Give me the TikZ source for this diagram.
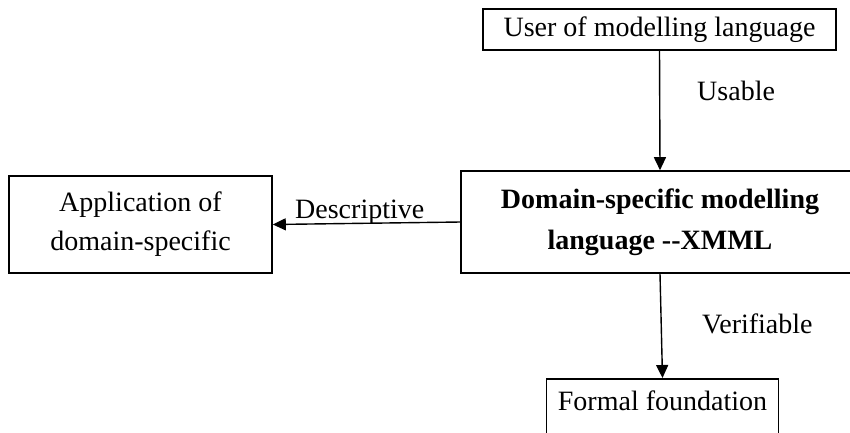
\documentclass[tikz,border=0pt]{standalone}
\usepackage{fontspec}
\setmainfont{Liberation Serif}
\usetikzlibrary{arrows.meta}
\begin{document}
\begin{tikzpicture}[x=1pt,y=-1pt,
  box/.style={draw, line width=1.6pt, inner sep=0pt, align=center,
    font=\fontsize{28}{40}\selectfont},
  lbl/.style={anchor=base west, inner sep=0pt, font=\fontsize{28}{34}\selectfont},
  arr/.style={line width=1.4pt, -{Triangle[length=13pt,width=12pt]}}]
\useasboundingbox (0,0) rectangle (850,432);

% boxes
\node[box, minimum width=353pt, minimum height=41pt] (user) at (659.5,29.5)
  {User of modelling language};
\node[box, minimum width=398pt, minimum height=102pt, font=\fontsize{28}{41}\selectfont\bfseries]
  (xmml) at (660,222) {Domain-specific modelling\\language {-}{-}XMML};
\node[box, minimum width=263pt, minimum height=97pt, font=\fontsize{28}{39}\selectfont]
  (app) at (140.5,224.5) {Application of\\domain-specific};
\node[box, anchor=north, minimum width=232pt, text height=32pt, text depth=28pt]
  (formal) at (662.5,378) {Formal foundation};

% connectors
\draw[arr] (user.south) -- (xmml.north);
\draw[arr] (xmml.west) -- (app.east);
\draw[arr] (xmml.south) -- (formal.north);

% connector labels
\node[lbl] (usable) at (697,100) {Usable};
\node[lbl] (descr) at (295,218) {Descriptive};
\node[lbl] (verif) at (702,333) {Verifiable};
\end{tikzpicture}
\end{document}
